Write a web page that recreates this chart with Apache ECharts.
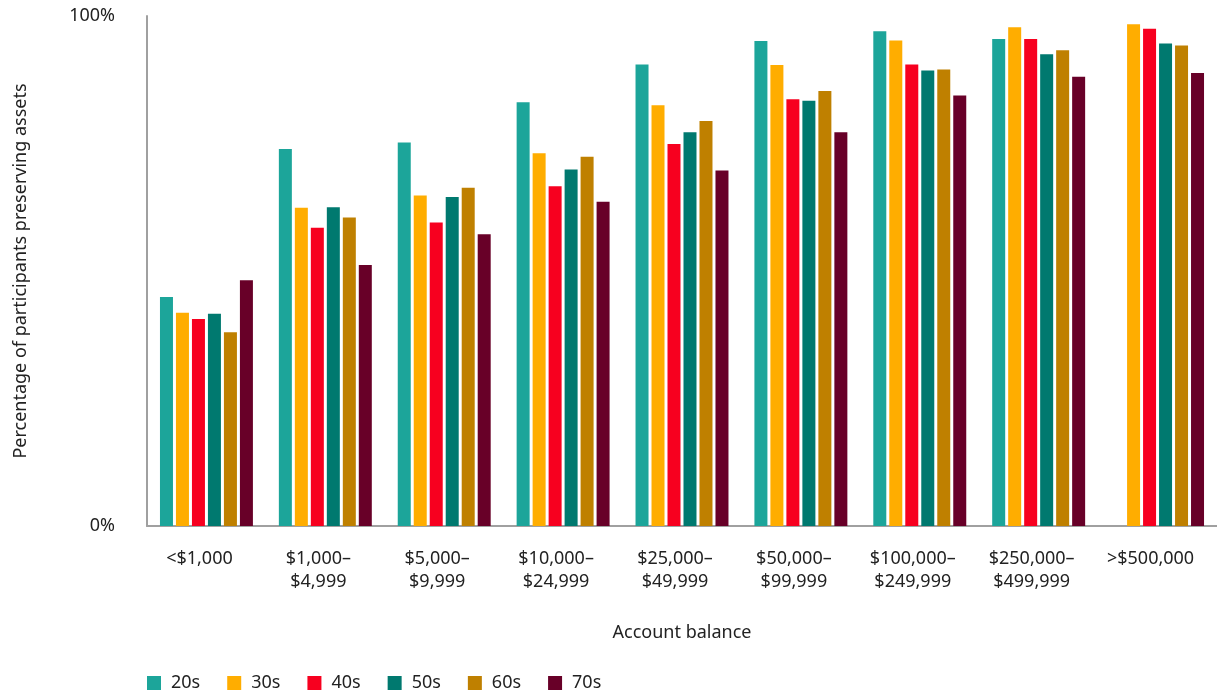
<!DOCTYPE html>
<html>
<head>
<meta charset="utf-8">
<script src="https://cdn.jsdelivr.net/npm/echarts@6/dist/echarts.min.js"></script>
<style>html,body{margin:0;padding:0;background:#fff}#c{width:1217px;height:694px}</style>
</head>
<body>
<div id="c"></div>
<script>
const categories = ['<$1,000', '$1,000–\n$4,999', '$5,000–\n$9,999', '$10,000–\n$24,999', '$25,000–\n$49,999', '$50,000–\n$99,999', '$100,000–\n$249,999', '$250,000–\n$499,999', '>$500,000'];
const seriesNames = ['20s', '30s', '40s', '50s', '60s', '70s'];
const v20s = [44.9, 73.9, 75.2, 83.1, 90.5, 95.1, 97.0, 95.5, null];
const v30s = [41.8, 62.4, 64.8, 73.1, 82.5, 90.4, 95.2, 97.8, 98.4];
const v40s = [40.6, 58.5, 59.5, 66.6, 74.9, 83.7, 90.5, 95.5, 97.5];
const v50s = [41.6, 62.5, 64.5, 69.9, 77.2, 83.4, 89.3, 92.5, 94.6];
const v60s = [38.0, 60.5, 66.3, 72.4, 79.4, 85.3, 89.5, 93.3, 94.2];
const v70s = [48.2, 51.2, 57.2, 63.6, 69.7, 77.2, 84.4, 88.1, 88.8];
const colors = ['#1ca59a', '#ffad00', '#f7001f', '#00796f', '#bf8000', '#680028'];
const allValues = [v20s, v30s, v40s, v50s, v60s, v70s];

const font = '"Noto Sans", sans-serif';
const chart = echarts.init(document.getElementById('c'));
chart.setOption({
  animation: false,
  color: colors,
  textStyle: { fontFamily: font, color: '#222' },
  grid: { left: 147, right: 0, top: 16, bottom: 168, containLabel: false },
  legend: {
    data: seriesNames,
    left: 142, top: 669,
    itemWidth: 14, itemHeight: 14, itemGap: 27,
    icon: 'rect',
    textStyle: { fontSize: 18, fontFamily: font, color: '#222', padding: [0, 0, 0, 5] }
  },
  xAxis: {
    type: 'category',
    data: categories,
    name: 'Account balance',
    nameLocation: 'middle',
    nameGap: 98,
    nameTextStyle: { fontSize: 18, color: '#222', fontFamily: font },
    axisLine: { lineStyle: { color: '#a0a0a0', width: 2 } },
    axisTick: { show: false },
    axisLabel: { fontSize: 18, color: '#222', margin: 21, lineHeight: 23, interval: 0, fontFamily: font, padding: [0, 14, 0, 0] }
  },
  yAxis: {
    type: 'value',
    min: 0, max: 100, interval: 100,
    name: 'Percentage of participants preserving assets',
    nameLocation: 'middle',
    nameGap: 117,
    nameTextStyle: { fontSize: 18, color: '#222', fontFamily: font },
    axisLine: { show: true, lineStyle: { color: '#a0a0a0', width: 2 } },
    axisTick: { show: false },
    splitLine: { show: false },
    axisLabel: { fontSize: 18, color: '#222', margin: 32, formatter: '{value}%', fontFamily: font }
  },
  series: seriesNames.map((n, i) => ({
    name: n,
    type: 'bar',
    data: allValues[i],
    barWidth: 13,
    barGap: '23%',
    itemStyle: { color: colors[i] }
  }))
});
</script>
</body>
</html>
